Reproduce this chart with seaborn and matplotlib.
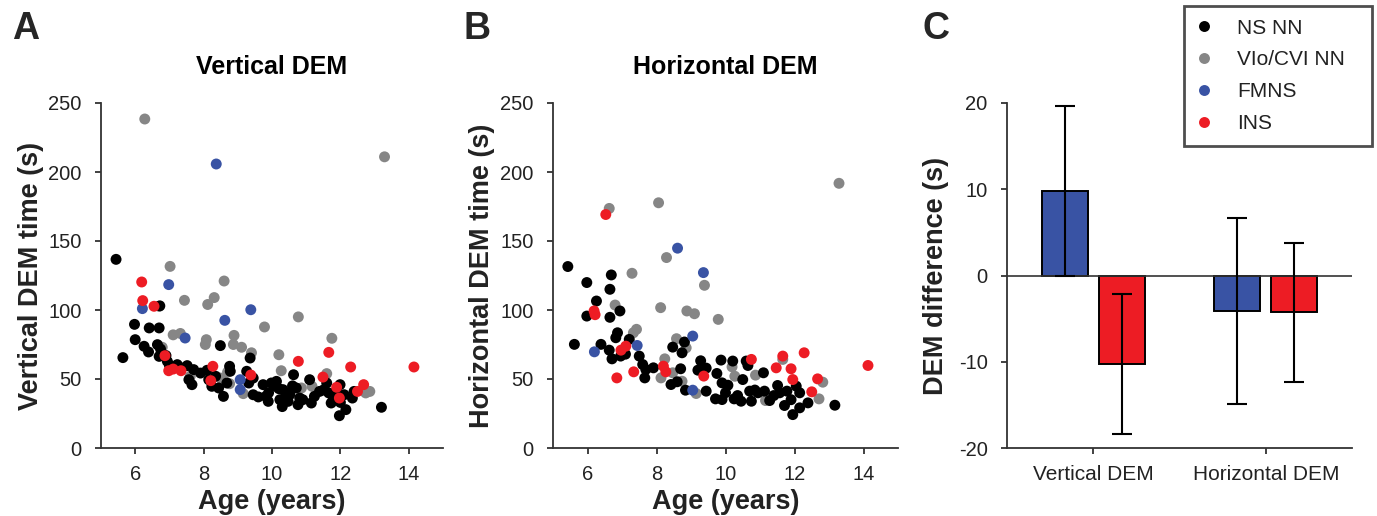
import numpy as np
import pandas as pd
import matplotlib.pyplot as plt
import seaborn as sns

groups = ["NS NN", "VIo/CVI NN", "FMNS", "INS"]
colors = ["#000000", "#868686", "#3953a4", "#ed1c24"]

# Panel A: vertical DEM time (s) vs age (years)
vert_ns_age = [5.44, 5.64, 5.98, 6.00, 6.41, 6.70, 6.72, 6.26, 6.39, 6.65, 6.74, 6.70,
               6.94, 7.23, 7.52, 7.71, 7.91, 7.66, 7.57, 8.49, 8.10, 8.15, 8.24, 8.44,
               8.58, 8.68, 8.76, 8.78, 9.36, 9.26, 9.32, 9.45, 9.45, 9.74, 9.82, 9.89,
               9.98, 10.13, 10.23, 10.32, 10.52, 10.63, 10.71, 10.76, 10.81, 10.47, 11.10,
               11.15, 11.24, 11.39, 11.60, 11.66, 11.73, 11.87, 11.99, 11.97, 12.16, 12.11,
               12.35, 12.40, 13.20, 10.05, 10.40, 10.60, 10.90, 11.50, 12.00, 7.00, 7.35,
               6.90, 8.35, 9.60, 10.30, 11.80, 9.90, 10.20]
vert_ns_time = [136.7, 65.5, 89.6, 78.5, 87.0, 87.0, 103.0, 73.7, 69.6, 74.9, 71.7, 66.4,
                62.8, 60.4, 59.7, 56.8, 54.3, 45.9, 49.5, 74.2, 56.3, 49.5, 44.7, 43.5,
                37.4, 47.1, 59.2, 55.6, 65.2, 55.6, 47.1, 38.6, 50.7, 45.9, 37.4, 33.8,
                47.1, 48.3, 35.0, 42.3, 38.6, 53.1, 43.5, 31.4, 36.2, 33.8, 49.5,
                32.6, 37.4, 41.0, 47.1, 39.9, 32.6, 41.0, 45.9, 23.4, 27.8, 38.6,
                36.2, 41.0, 29.5, 45.0, 40.0, 45.0, 35.0, 42.0, 33.0, 60.0, 58.0,
                67.0, 52.0, 37.0, 30.0, 36.0, 40.0, 43.0]
vert_vi_age = [6.28, 13.29, 7.02, 8.60, 7.44, 8.12, 8.31, 6.70, 10.77, 9.78, 8.89, 7.11,
               7.32, 8.08, 8.05, 11.75, 8.87, 9.11, 9.40, 10.20, 10.27, 6.79, 7.61, 8.49,
               8.70, 8.76, 9.16, 10.86, 11.17, 11.60, 12.74, 12.86]
vert_vi_time = [238.4, 211.0, 131.6, 121.0, 107.0, 104.0, 109.0, 102.7, 95.0, 87.7, 81.6, 82.0,
                83.0, 78.5, 75.0, 79.5, 75.0, 73.0, 69.0, 67.6, 56.0, 73.0, 52.0, 50.7,
                55.0, 46.6, 39.4, 43.5, 44.7, 53.9, 39.9, 41.0]
vert_fm_age = [8.37, 6.98, 6.21, 9.38, 8.62, 7.46, 9.07, 9.07]
vert_fm_time = [205.8, 118.4, 101.0, 100.2, 92.5, 79.7, 49.5, 42.3]
vert_in_age = [6.19, 6.22, 6.55, 6.87, 6.98, 7.11, 7.34, 8.27, 8.21, 9.38, 10.77, 11.66,
               11.49, 12.30, 11.89, 11.97, 12.50, 12.68, 14.15]
vert_in_time = [120.3, 106.8, 102.7, 66.9, 56.0, 57.2, 56.0, 59.2, 48.8, 52.9, 62.8, 69.3,
                51.4, 58.7, 44.0, 36.2, 41.0, 45.9, 58.7]

# Panel B: horizontal DEM time (s) vs age (years)
horiz_ns_age = [5.43, 5.62, 5.98, 5.98, 6.26, 6.69, 6.65, 6.65, 6.94, 6.87, 6.82, 6.39,
                6.63, 6.71, 6.96, 7.21, 7.50, 7.60, 7.69, 7.66, 7.91, 8.47, 8.74, 8.81,
                8.42, 8.70, 8.84, 9.28, 9.20, 9.44, 9.44, 9.71, 9.87, 9.75, 9.90, 10.07,
                9.90, 10.21, 10.25, 10.45, 10.50, 10.60, 10.65, 10.70, 10.75, 10.94, 11.10,
                11.13, 11.28, 11.51, 11.57, 11.71, 11.78, 12.05, 12.15, 11.95, 12.15, 12.39,
                13.17, 10.00, 10.35, 10.85, 11.40, 11.90, 8.60, 7.10]
horiz_ns_time = [131.5, 75.1, 119.9, 95.6, 106.5, 125.4, 115.0, 94.7, 99.3, 83.5, 79.9, 75.1,
                 70.9, 64.6, 66.6, 78.7, 66.6, 60.5, 56.9, 50.8, 58.1, 73.1, 69.0, 76.8,
                 46.0, 57.4, 41.9, 63.2, 56.4, 57.9, 41.2, 35.6, 63.7, 54.0, 47.2, 45.5,
                 35.1, 63.0, 35.6, 33.9, 49.6, 63.0, 59.8, 41.2, 33.9, 40.0, 54.5,
                 41.2, 34.4, 45.3, 40.0, 30.8, 41.2, 44.8, 40.0, 24.2, 29.1, 32.7,
                 31.0, 40.0, 38.0, 42.0, 38.0, 35.0, 48.0, 68.0]
horiz_vi_age = [13.29, 6.63, 8.06, 8.29, 7.29, 9.39, 6.80, 8.12, 8.88, 9.10, 9.79, 7.42,
                7.33, 8.58, 8.86, 8.24, 10.19, 10.27, 10.87, 11.66, 8.13, 8.47, 8.74, 9.15,
                11.16, 12.71, 12.82]
horiz_vi_time = [191.8, 173.6, 177.7, 138.0, 126.6, 117.9, 103.6, 101.7, 99.3, 97.3, 93.2, 86.0,
                 83.5, 79.2, 72.6, 64.6, 58.8, 52.0, 52.8, 64.2, 50.8, 54.5, 48.4, 39.5,
                 34.4, 35.6, 47.7]
horiz_fm_age = [8.61, 9.36, 9.05, 7.44, 6.20, 9.05]
horiz_fm_time = [144.8, 127.1, 81.1, 74.3, 69.7, 41.9]
horiz_in_age = [6.53, 6.19, 6.22, 6.97, 7.11, 6.85, 7.34, 8.20, 8.27, 9.37, 10.75, 11.47,
                11.66, 12.28, 11.90, 11.95, 12.50, 12.67, 14.13]
horiz_in_time = [169.2, 99.3, 96.6, 70.9, 73.8, 50.8, 55.2, 59.3, 55.2, 52.1, 64.2, 58.1,
                 66.6, 69.0, 57.4, 49.6, 40.7, 50.1, 59.8]

# Panel C: DEM difference (s), mean and error
bar_tests = ["Vertical DEM", "Horizontal DEM"]
fmns_diff = [9.8, -4.1]
fmns_err = [9.9, 10.8]
ins_diff = [-10.3, -4.25]
ins_err = [8.1, 8.05]


def scatter_frame(ns, vi, fm, ins):
    parts = []
    # drawing order: gray, black, blue, red
    for name, (age, t) in [("VIo/CVI NN", vi), ("NS NN", ns), ("FMNS", fm), ("INS", ins)]:
        parts.append(pd.DataFrame({"age": age, "time": t, "group": name}))
    return pd.concat(parts, ignore_index=True)


df_vert = scatter_frame((vert_ns_age, vert_ns_time), (vert_vi_age, vert_vi_time),
                        (vert_fm_age, vert_fm_time), (vert_in_age, vert_in_time))
df_horiz = scatter_frame((horiz_ns_age, horiz_ns_time), (horiz_vi_age, horiz_vi_time),
                         (horiz_fm_age, horiz_fm_time), (horiz_in_age, horiz_in_time))
df_bar = pd.DataFrame({
    "test": bar_tests * 2,
    "group": ["FMNS"] * 2 + ["INS"] * 2,
    "diff": fmns_diff + ins_diff,
    "err": fmns_err + ins_err,
})

sns.set_style("ticks")
plt.rcParams["font.family"] = ["Liberation Sans", "DejaVu Sans"]
plt.rcParams["axes.unicode_minus"] = False

text_col = "#222222"
spine_col = "#333333"
label_fs = 19.5
tick_fs = 14.5

fig = plt.figure(figsize=(13.77, 5.16), dpi=100)
W, H = 1377, 516
axA = fig.add_axes([101 / W, 1 - 448 / H, 342 / W, 345 / H])
axB = fig.add_axes([553 / W, 1 - 448 / H, 345 / W, 345 / H])
axC = fig.add_axes([1007 / W, 1 - 448 / H, 345 / W, 345 / H])

palette = dict(zip(groups, colors))


def style_axis(ax):
    sns.despine(ax=ax)
    for side in ["left", "bottom"]:
        ax.spines[side].set_linewidth(1.3)
        ax.spines[side].set_color(spine_col)
    ax.tick_params(axis="both", length=4, width=1.3, color=spine_col,
                   labelsize=tick_fs, labelcolor=text_col)
    ax.tick_params(axis="y", pad=10)
    ax.tick_params(axis="x", pad=8)
    ax.yaxis.set_label_coords(-0.168, 0.5)


for ax, df, title, ylab in [(axA, df_vert, "Vertical DEM", "Vertical DEM time (s)"),
                            (axB, df_horiz, "Horizontal DEM", "Horizontal DEM time (s)")]:
    sns.scatterplot(data=df, x="age", y="time", hue="group", hue_order=groups,
                    palette=palette, s=62, linewidth=0, alpha=1, ax=ax)
    ax.set_xlim(5, 15)
    ax.set_ylim(0, 250)
    ax.set_xticks([6, 8, 10, 12, 14])
    ax.set_yticks([0, 50, 100, 150, 200, 250])
    ax.set_title(title, fontsize=18, fontweight="bold", pad=21, color="black")
    ax.set_xlabel("Age (years)", fontsize=label_fs, fontweight="bold", color=text_col, labelpad=3.5)
    ax.set_ylabel(ylab, fontsize=label_fs, fontweight="bold", color=text_col)
    style_axis(ax)

handles, labels = axA.get_legend_handles_labels()
axA.get_legend().remove()
axB.get_legend().remove()

# Panel C bars
sns.barplot(data=df_bar, x="test", y="diff", hue="group", hue_order=["FMNS", "INS"],
            palette=palette, width=0.66, gap=0.19, errorbar=None, saturation=1,
            edgecolor="black", linewidth=1.4, legend=False, ax=axC)
err_lookup = dict(zip(df_bar["diff"].round(3), df_bar["err"]))
for p in axC.patches:
    h = p.get_height()
    xc = p.get_x() + p.get_width() / 2
    axC.errorbar(xc, h, yerr=err_lookup[round(h, 3)], color="black", lw=1.5,
                 capsize=7, capthick=1.5, fmt="none", zorder=5)
axC.axhline(0, color=spine_col, lw=1.2, zorder=4)
axC.set_xlim(-0.5, 1.5)
axC.set_ylim(-20, 20)
axC.set_yticks([-20, -10, 0, 10, 20])
axC.set_xlabel("")
axC.set_ylabel("DEM difference (s)", fontsize=label_fs, fontweight="bold", color=text_col)
style_axis(axC)
axC.tick_params(axis="x", labelsize=15, pad=8)

# Legend, frame stretched to the reference box width
leg = fig.legend(handles, labels, loc="upper left",
                 bbox_to_anchor=(1184 / W, 1 - 143 / H, 188 / W, 137 / H), mode="expand",
                 fontsize=15, frameon=True, fancybox=False, edgecolor="#222222",
                 handlelength=0.7, handletextpad=1.25, labelspacing=0.62, borderpad=0.6,
                 borderaxespad=0, markerscale=1.0)
leg.get_frame().set_linewidth(2)
for t in leg.get_texts():
    t.set_color(text_col)

# Panel letters
for letter, x in [("A", 12), ("B", 463), ("C", 923)]:
    fig.text(x / W, 1 - 11 / H, letter, fontsize=27, fontweight="bold", va="top", ha="left")

fig.savefig("out.png", dpi=100)
